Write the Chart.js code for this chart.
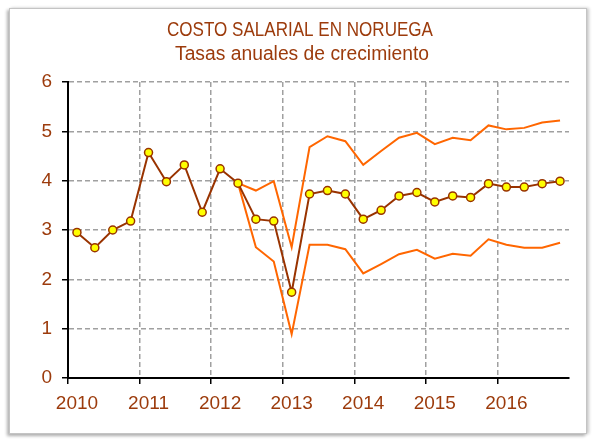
<!DOCTYPE html>
<html><head><meta charset="utf-8">
<script src="https://cdn.jsdelivr.net/npm/chart.js@4"></script>
<style>
html,body{margin:0;padding:0;background:#fff;}
#wrap{position:relative;width:595px;height:439px;}
#frame{position:absolute;left:9px;top:8px;width:576px;height:424px;border:1px solid #c4c4c4;box-shadow:-2px 2px 3px #b0b0b0, 2px 0 3px #c8c8c8;background:#fff;}
canvas{position:absolute;left:0;top:0;}
</style></head>
<body>
<div id="wrap"><div id="frame"></div><canvas id="c" width="595" height="439"></canvas></div>
<script>
const titleLines = ["COSTO SALARIAL EN NORUEGA", "Tasas anuales de crecimiento"];
const years = ["2010","2011","2012","2013","2014","2015","2016"];
const categories = [];
years.forEach(y => { categories.push(y, "", "", ""); });
const costoSalarial = [2.95,2.64,3.0,3.18, 4.57,3.98,4.32,3.36, 4.24,3.95,3.22,3.18, 1.74,3.73,3.8,3.73, 3.22,3.4,3.69,3.76, 3.57,3.69,3.66,3.94, 3.87,3.87,3.94,3.99];
const bandaSuperior = [null,null,null,null, null,null,null,null, null,3.95,3.8,3.99, 2.65,4.68,4.9,4.8, 4.32,4.6,4.87,4.97, 4.74,4.87,4.82,5.12, 5.04,5.07,5.18,5.22];
const bandaInferior = [null,null,null,null, null,null,null,null, null,3.95,2.65,2.36, 0.89,2.7,2.7,2.61, 2.12,2.31,2.51,2.6, 2.42,2.52,2.48,2.81, 2.7,2.64,2.64,2.74];
const yTicks = [0,1,2,3,4,5,6];

const brown = '#993300';
const orange = '#ff6600';
const textColor = '#9c3b0c';
const fontFam = '"Liberation Sans Narrow", "Liberation Sans", Arial, sans-serif';

const titlePlugin = {
  id: 'twoLineTitle',
  afterDraw(chart) {
    const ctx = chart.ctx;
    ctx.save();
    ctx.fillStyle = textColor;
    ctx.textAlign = 'center';
    ctx.textBaseline = 'alphabetic';
    ctx.font = '20px ' + fontFam;
    ctx.fillText(titleLines[0], 300, 36, 266);
    ctx.fillText(titleLines[1], 302, 60, 254);
    ctx.restore();
  }
};

new Chart(document.getElementById('c'), {
  type: 'line',
  data: {
    labels: categories,
    datasets: [
      { label: 'Costo salarial', data: costoSalarial, borderColor: brown, borderWidth: 2,
        pointRadius: 4, pointBackgroundColor: '#ffff00', pointBorderColor: brown, pointBorderWidth: 1.5,
        tension: 0, order: 0 },
      { label: 'Superior', data: bandaSuperior, borderColor: orange, borderWidth: 2, pointRadius: 0, tension: 0, order: 1 },
      { label: 'Inferior', data: bandaInferior, borderColor: orange, borderWidth: 2, pointRadius: 0, tension: 0, order: 2 }
    ]
  },
  options: {
    responsive: false,
    animation: false,
    layout: { padding: { top: 82, left: 0, right: 26, bottom: 0 } },
    plugins: { legend: { display: false }, tooltip: { enabled: false }, title: { display: false } },
    scales: {
      x: {
        type: 'category',
        offset: true,
        afterFit(s) { s.height = 61; },
        grid: {
          offset: true,
          color: c => (c.index % 4 === 0 ? '#a0a0a0' : 'rgba(0,0,0,0)'),
          lineWidth: 1.5,
          tickColor: c => (c.index % 4 === 0 ? '#000' : 'rgba(0,0,0,0)'),
          tickLength: 6,
          tickWidth: 1.5,
          tickBorderDash: []
        },
        border: { display: true, color: '#000', width: 2, dash: [5, 3] },
        ticks: { autoSkip: false, maxRotation: 0, color: textColor, padding: 8, font: { family: fontFam, size: 19 } }
      },
      y: {
        min: 0, max: 6,
        afterFit(s) { s.width = 68; },
        afterBuildTicks(s) { s.ticks = yTicks.map(v => ({ value: v })); },
        grid: { color: '#a0a0a0', lineWidth: 1.5, tickColor: '#000', tickLength: 6, tickWidth: 1.5, tickBorderDash: [] },
        border: { display: true, color: '#000', width: 2, dash: [5, 3] },
        ticks: { color: textColor, padding: 10, font: { family: fontFam, size: 19 } }
      }
    }
  },
  plugins: [titlePlugin]
});
</script>
</body></html>
